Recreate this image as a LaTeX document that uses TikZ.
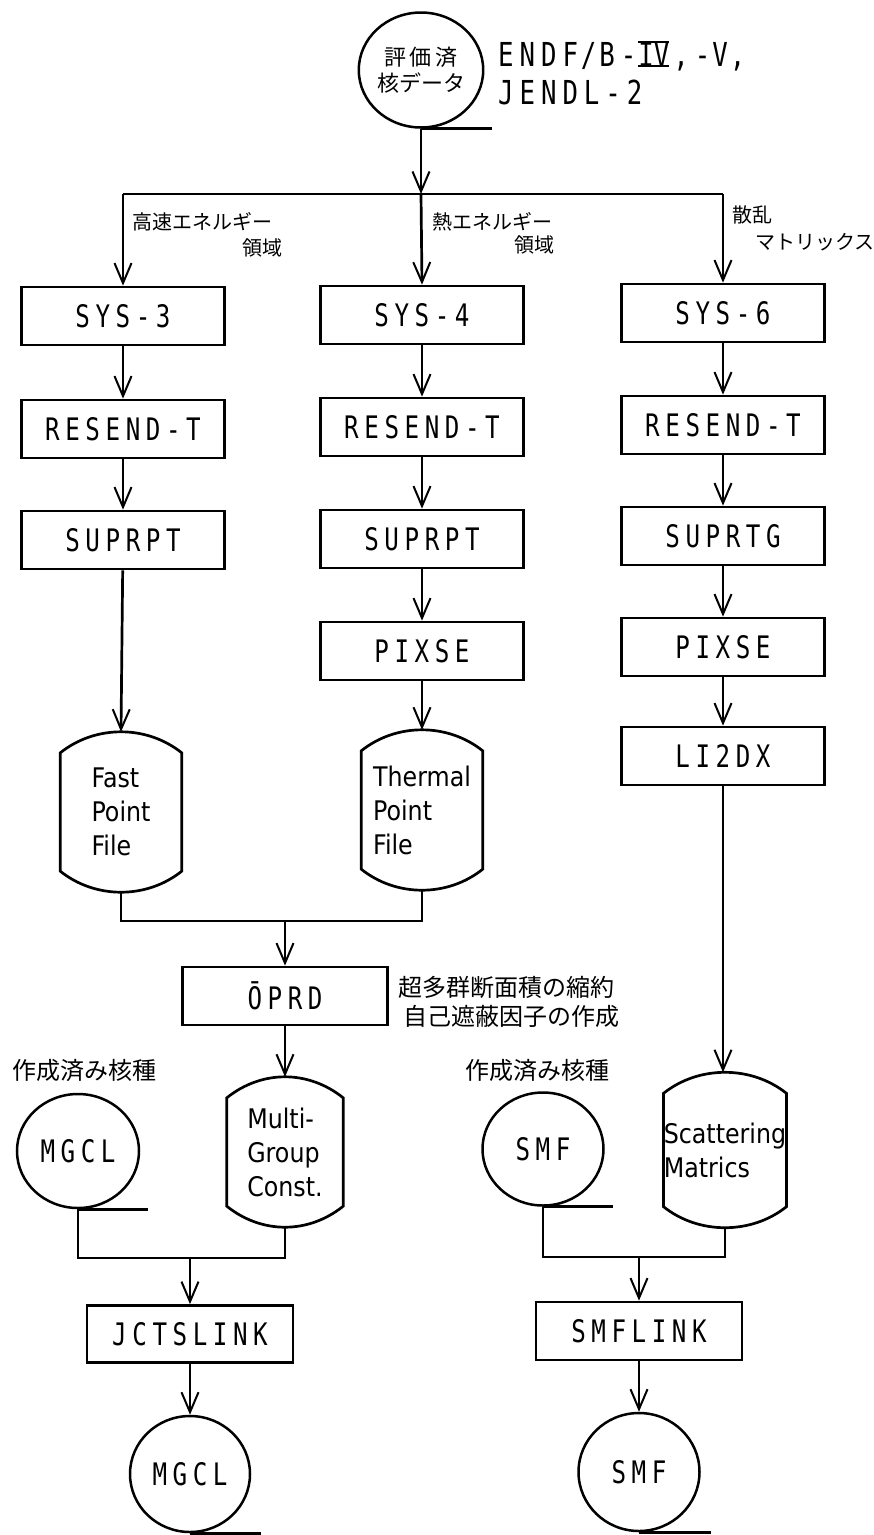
\documentclass[tikz,border=0pt]{standalone}
\usepackage{fontspec}
\usetikzlibrary{shapes.geometric,arrows.meta,calc}
\newfontfamily\monof[FakeStretch=0.78,LetterSpace=18]{DejaVu Sans Mono}
\newfontfamily\monoplain[FakeStretch=0.78]{DejaVu Sans Mono}
\newfontfamily\capf[FakeStretch=0.88]{DejaVu Sans}
\newfontfamily\cjk{Noto Sans CJK JP}
\newcommand\barnum[1]{{\monoplain\setbox0\hbox{#1}%
  \rlap{\rule[-0.5pt]{\wd0}{1.8pt}}\rlap{\raisebox{23pt}{\rule{\wd0}{1.8pt}}}\box0}}
\newcommand\capoutline[1]{%
  \draw[ln] ($(#1.north west)+(0,21)$) .. controls +(35,-28) and +(-35,-28) .. ($(#1.north east)+(0,21)$)
    -- ($(#1.south east)+(0,-21)$) .. controls +(-35,28) and +(35,28) .. ($(#1.south west)+(0,-21)$) -- cycle;}
\begin{document}
\begin{tikzpicture}[x=1pt,y=-1pt,
  ln/.style={line width=2.7pt},
  arr/.style={ln,-{Straight Barb[length=20pt,width=17pt,line width=2pt]}},
  box/.style={draw,ln,minimum width=203pt,minimum height=58pt,inner sep=0pt,
    font=\monof\fontsize{31}{34}\selectfont},
  circ/.style={draw,ellipse,line width=2.5pt,inner sep=0pt,
    font=\monof\fontsize{31}{34}\selectfont},
  capn/.style={minimum width=121pt,minimum height=160pt,inner sep=0pt,align=left,
    font=\capf\fontsize{27}{34}\selectfont},
  jp/.style={font=\cjk\fontsize{20}{22}\selectfont,inner sep=0pt},
  jpl/.style={font=\cjk\fontsize{24}{26}\selectfont,inner sep=0pt},
  endf/.style={font=\monof\fontsize{33}{36}\selectfont,inner sep=0pt,anchor=west}]
\useasboundingbox (0,0) rectangle (874,1535);

% source
\node[circ,minimum width=118pt,minimum height=115pt,align=center,
  font=\cjk\fontsize{22}{26}\selectfont] (src) at (421,70) {評\,価\,済\\核データ};
\draw[ln] (src.south) -- +(71,0);
\node[endf] (endf) at (498,56) {ENDF\hspace{3pt}/\hspace{3pt}B-\hspace{2pt}\barnum{IV}\hspace{4pt},-\hspace{2pt}V\hspace{2pt},};
\node[endf] (jendl) at (498,92) {JENDL-2};

% branch
\coordinate (b3) at (123,194);
\coordinate (b4) at (421,194);
\coordinate (b6) at (723,194);
\draw[arr] (src.south) -- (b4);
\draw[ln] (b3) -- (b6);

% labels
\node[jp,anchor=west] (l1a) at (132,222) {高速エネルギー};
\node[jp,anchor=east] (l1b) at (283,248) {領域};
\node[jp,anchor=west] (l2a) at (432,222) {熱エネルギー};
\node[jp,anchor=east] (l2b) at (555,245) {領域};
\node[jp,anchor=west] (l3a) at (732,215) {散乱};
\node[jp,anchor=west] (l3b) at (755,242) {マトリックス};

% left column
\node[box] (sys3) at (123,316) {SYS-3};
\node[box] (res3) at (123,429) {RESEND-T};
\node[box] (sup3) at (123,540) {SUPRPT};
\node[capn] (fast) at (121,812) {Fast\\Point\\File};
\capoutline{fast}

% middle column
\node[box] (sys4) at (422,315) {SYS-4};
\node[box] (res4) at (422,427) {RESEND-T};
\node[box] (sup4) at (422,539) {SUPRPT};
\node[box] (pix4) at (422,651) {PIXSE};
\node[capn] (therm) at (422,810) {Thermal\\Point\\File};
\capoutline{therm}

% right column
\node[box] (sys6) at (723,313) {SYS-6};
\node[box] (res6) at (723,425) {RESEND-T};
\node[box] (sup6) at (723,536) {SUPRTG};
\node[box] (pix6) at (723,647) {PIXSE};
\node[box] (li2dx) at (723,756) {LI2DX};

\draw[arr] (b3) -- (sys3.north);
\draw[arr] (b4) -- (sys4.north);
\draw[arr] (b6) -- (sys6.north);
\draw[arr] (sys3) -- (res3);
\draw[arr] (res3) -- (sup3);
\draw[arr] (sup3) -- (fast.north);
\draw[arr] (sys4) -- (res4);
\draw[arr] (res4) -- (sup4);
\draw[arr] (sup4) -- (pix4);
\draw[arr] (pix4) -- (therm.north);
\draw[arr] (sys6) -- (res6);
\draw[arr] (res6) -- (sup6);
\draw[arr] (sup6) -- (pix6);
\draw[arr] (pix6) -- (li2dx);

% merge to OPRD
\coordinate (mj) at (285,921);
\draw[ln] (fast.south) |- (mj) -| (therm.south);
\node[box,minimum width=205pt] (oprd) at (285,996) {ŌPRD};
\draw[arr] (mj) -- (oprd.north);
\node[jpl,anchor=west] (t1) at (398,987) {超多群断面積の縮約};
\node[jpl,anchor=west] (t2) at (403,1016) {自己遮蔽因子の作成};

% multigroup capsule
\node[capn,minimum width=116pt,minimum height=150pt] (mgc) at (285,1152) {Multi-\\Group\\Const.};
\capoutline{mgc}
\draw[arr] (oprd) -- (mgc.north);

% scattering capsule
\node[capn,minimum height=155pt] (sc) at (725,1150) {Scattering\\Matrics};
\capoutline{sc}
\draw[arr] (li2dx.south) -- (li2dx.south |- sc.north);

% existing nuclides
\node[jpl,anchor=west] (e1) at (12,1070) {作成済み核種};
\node[jpl,anchor=west] (e2) at (465,1070) {作成済み核種};
\node[circ,minimum width=122pt,minimum height=114pt] (mg1) at (78,1151) {MGCL};
\draw[ln] (mg1.south) -- +(70,0);
\node[circ,minimum width=121pt,minimum height=113pt] (sm1) at (543,1149) {SMF};
\draw[ln] (sm1.south) -- +(70,0);

% link stage left
\coordinate (mj2) at (190,1258);
\draw[ln] (mg1.south) |- (mj2) -| (mgc.south);
\node[box,minimum width=206pt,minimum height=57pt] (jct) at (190,1334) {JCTSLINK};
\draw[arr] (mj2) -- (jct.north);
\node[circ,minimum width=120pt,minimum height=116pt] (mg2) at (190,1474) {MGCL};
\draw[arr] (jct) -- (mg2.north);
\draw[ln] (mg2.south) -- +(71,0);

% link stage right
\coordinate (mj3) at (639,1257);
\draw[ln] (sm1.south) |- (mj3) -| (sc.south);
\node[box,minimum width=206pt] (smfl) at (639,1331) {SMFLINK};
\draw[arr] (mj3) -- (smfl.north);
\node[circ,minimum width=121pt,minimum height=118pt] (sm2) at (639,1472) {SMF};
\draw[arr] (smfl) -- (sm2.north);
\draw[ln] (sm2.south) -- +(72,0);
\end{tikzpicture}
\end{document}
